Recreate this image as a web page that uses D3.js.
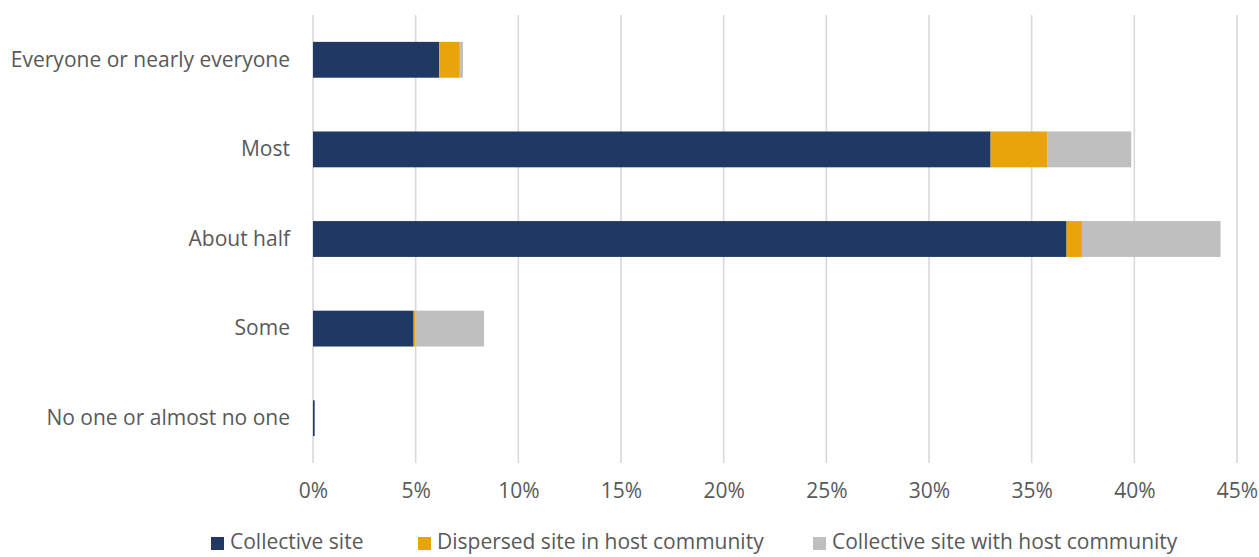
<!DOCTYPE html>
<html>
<head>
<meta charset="utf-8">
<script src="https://cdn.jsdelivr.net/npm/d3@7"></script>
<style>
  html, body { margin: 0; padding: 0; background: #fff; }
  svg { display: block; font-family: "Open Sans", "Noto Sans", sans-serif; }
</style>
</head>
<body>
<svg id="chart" width="1259" height="557"></svg>
<script>
// Share of respondents per answer, split by site type (percent)
const categories = ["Everyone or nearly everyone", "Most", "About half", "Some", "No one or almost no one"];
const seriesNames = ["Collective site", "Dispersed site in host community", "Collective site with host community"];
const collectiveSite = [6.15, 33.0, 36.7, 4.9, 0.08];
const dispersedSite = [1.0, 2.75, 0.75, 0.08, 0];
const collectiveWithHost = [0.15, 4.1, 6.75, 3.35, 0];
const xTicks = [0, 5, 10, 15, 20, 25, 30, 35, 40, 45];
const colors = ["#203864", "#E9A40C", "#BFBFBF"];

const svg = d3.select("#chart");
const margin = { top: 15, right: 22, bottom: 94, left: 313 };
const W = 1259, H = 557;
const plotH = H - margin.top - margin.bottom;
const fontSize = "21px";

const x = d3.scaleLinear().domain([0, 45]).range([0, 924]);
const y = d3.scaleBand().domain(categories).range([0, plotH]).paddingInner(0.6).paddingOuter(0.3);

const g = svg.append("g").attr("transform", `translate(${margin.left},${margin.top})`);

// vertical gridlines
g.append("g").selectAll("line").data(xTicks).join("line")
  .attr("x1", d => x(d)).attr("x2", d => x(d))
  .attr("y1", 0).attr("y2", plotH)
  .attr("stroke", "#D9D9D9").attr("stroke-width", 1.6);

// stacked bars
const rows = categories.map((c, i) => ({
  cat: c,
  [seriesNames[0]]: collectiveSite[i],
  [seriesNames[1]]: dispersedSite[i],
  [seriesNames[2]]: collectiveWithHost[i]
}));
const stacked = d3.stack().keys(seriesNames)(rows);

g.append("g").selectAll("g").data(stacked).join("g")
  .attr("fill", (d, i) => colors[i])
  .selectAll("rect").data(d => d).join("rect")
  .attr("x", d => x(d[0]))
  .attr("y", d => y(d.data.cat))
  .attr("width", d => Math.max(0, x(d[1]) - x(d[0])))
  .attr("height", y.bandwidth());

// x axis labels
const xAxis = d3.axisBottom(x).tickValues(xTicks).tickFormat(d => d + "%").tickSize(0).tickPadding(0);
const xa = g.append("g").attr("transform", `translate(0,${plotH + 20})`).call(xAxis);
xa.select(".domain").remove();
xa.selectAll("text").attr("fill", "#595959").style("font-size", fontSize)
  .style("font-family", "'Open Sans', sans-serif");

// category labels
const yAxis = d3.axisLeft(y).tickSize(0).tickPadding(23);
const ya = g.append("g").call(yAxis);
ya.select(".domain").remove();
ya.selectAll("text").attr("fill", "#595959").style("font-size", fontSize)
  .style("font-family", "'Open Sans', sans-serif");

// legend
const legendX = [211, 418, 813];
const legend = svg.append("g").attr("transform", "translate(0,542)");
const items = legend.selectAll("g").data(seriesNames).join("g")
  .attr("transform", (d, i) => `translate(${legendX[i]},0)`);
items.append("rect").attr("x", 0).attr("y", -5).attr("width", 13).attr("height", 13)
  .attr("fill", (d, i) => colors[i]);
items.append("text").attr("x", 19).attr("y", 0).attr("dy", "0.35em")
  .attr("fill", "#595959").style("font-size", fontSize).text(d => d);
</script>
</body>
</html>
